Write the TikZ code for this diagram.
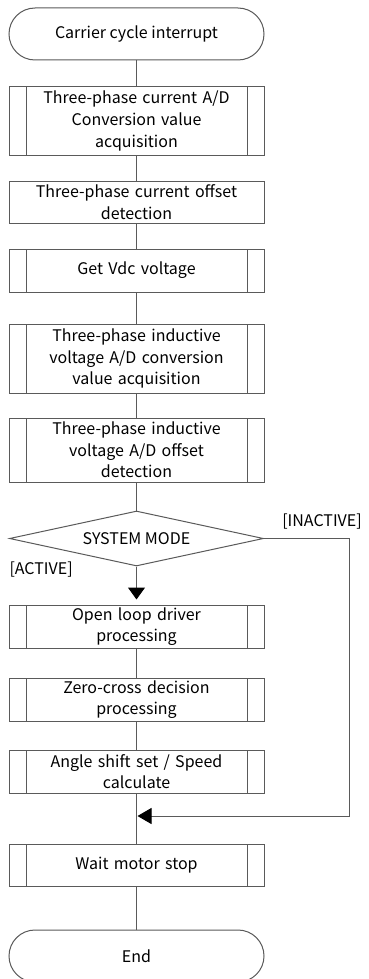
\documentclass[tikz,border=0pt]{standalone}
\usepackage{fontspec}
\setmainfont{Noto Sans CJK JP}
\usetikzlibrary{shapes.geometric,arrows.meta}
\definecolor{lineg}{HTML}{5A5A5A}
\begin{document}
\begin{tikzpicture}[x=1pt,y=-1pt,font=\fontsize{16}{21.7}\selectfont,
  line width=1pt,
  term/.style={draw=lineg,rounded corners=26pt,minimum width=255pt,minimum height=52pt,inner sep=0pt},
  plain/.style={draw=lineg,minimum width=255pt,text width=235pt,align=center,inner sep=0pt},
  sub/.style={plain,path picture={
    \draw[lineg] ([xshift=17pt]path picture bounding box.north west) -- ([xshift=17pt]path picture bounding box.south west);
    \draw[lineg] ([xshift=-17pt]path picture bounding box.north east) -- ([xshift=-17pt]path picture bounding box.south east);}},
  dec/.style={draw=lineg,diamond,shape aspect=4.6,minimum width=254pt,minimum height=55pt,inner sep=0pt},
  flow/.style={draw=lineg},
  tip/.style={-{Triangle[length=14pt,width=16pt,color=black]},shorten >=-0.5pt}]
  \clip (0,0) rectangle (368,979);
  \fill[white] (0,0) rectangle (368,979);
  \node[term] (start) at (136.5,34) {Carrier cycle interrupt};
  \node[sub,minimum height=68pt] (adcur) at (136.5,121) {Three-phase current A/D\\Conversion value\\acquisition};
  \node[plain,minimum height=42pt] (offcur) at (136.5,202) {Three-phase current offset\\detection};
  \node[sub,minimum height=43pt] (vdc) at (136.5,270.5) {Get Vdc voltage};
  \node[sub,minimum height=69pt] (advolt) at (136.5,358.5) {Three-phase inductive\\voltage A/D conversion\\value acquisition};
  \node[sub,minimum height=64pt] (offvolt) at (136.5,450) {Three-phase inductive\\voltage A/D offset\\detection};
  \node[dec] (mode) at (136.5,538.5) {SYSTEM MODE};
  \node[anchor=west,inner sep=0pt] (act) at (9,570) {[ACTIVE]};
  \node[inner sep=0pt] (inact) at (322,522) {[INACTIVE]};
  \node[sub,minimum height=43pt] (openloop) at (136.5,626.5) {Open loop driver\\processing};
  \node[sub,minimum height=43pt] (zerox) at (136.5,699.5) {Zero-cross decision\\processing};
  \node[sub,minimum height=43pt] (angle) at (136.5,771.5) {Angle shift set / Speed\\calculate};
  \coordinate (merge) at (136.5,816);
  \coordinate (corner) at (349,538.5);
  \node[sub,minimum height=42pt] (wait) at (136.5,865) {Wait motor stop};
  \node[term] (stop) at (136.5,956) {End};
  % connectors
  \draw[flow] (start) -- (adcur);
  \draw[flow] (adcur) -- (offcur);
  \draw[flow] (offcur) -- (vdc);
  \draw[flow] (vdc) -- (advolt);
  \draw[flow] (advolt) -- (offvolt);
  \draw[flow] (offvolt) -- (mode);
  \draw[flow,-{Triangle[length=12pt,width=17pt,color=black]},shorten >=5pt] (mode) -- (openloop);
  \draw[flow] (openloop) -- (zerox);
  \draw[flow] (zerox) -- (angle);
  \draw[flow] (angle) -- (wait);
  \draw[flow] (wait) -- (stop);
  \draw[flow,tip] (mode.east) -- (corner) |- ([xshift=1.5pt]merge);
\end{tikzpicture}
\end{document}
